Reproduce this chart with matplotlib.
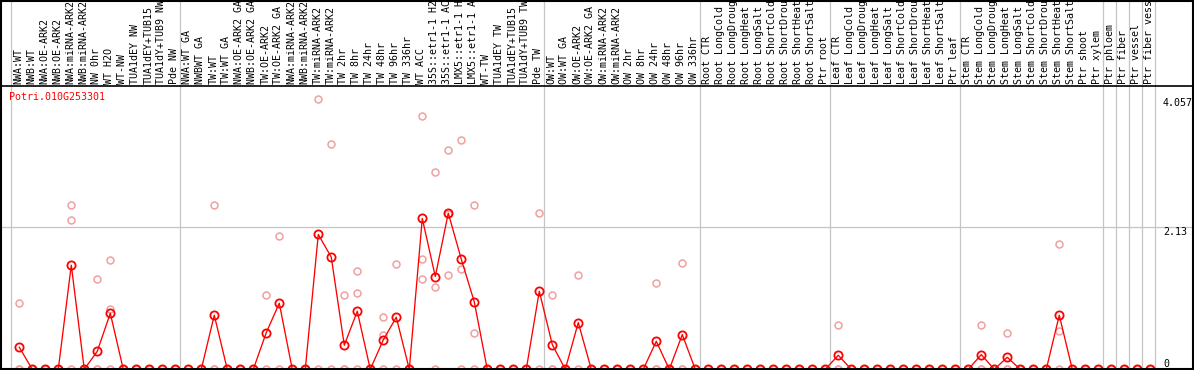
import matplotlib
matplotlib.use('Agg')
import matplotlib.pyplot as plt
from matplotlib.transforms import blended_transform_factory
from matplotlib.lines import Line2D

# ---------------- data ----------------
gene_id = "Potri.010G253301"

labels = [
    "NWA:WT", "NWB:WT", "NWA:OE-ARK2", "NWB:OE-ARK2", "NWA:miRNA-ARK2", "NWB:miRNA-ARK2",
    "NW 0hr", "WT H2O", "WT-NW", "TUA1dEY NW", "TUA1dEY+TUB15", "TUA1dY+TUB9 NW", "Pde NW",
    "NWA:WT GA", "NWBWT GA", "TW:WT", "TW:WT GA", "NWA:OE-ARK2 GA", "NWB:OE-ARK2 GA",
    "TW:OE-ARK2", "TW:OE-ARK2 GA", "NWA:miRNA-ARK2", "NWB:miRNA-ARK2", "TW:miRNA-ARK2",
    "TW:miRNA-ARK2", "TW 2hr", "TW 8hr", "TW 24hr", "TW 48hr", "TW 96hr", "TW 336hr",
    "WT ACC", "35S::etr1-1 H2", "35S::etr1-1 AC", "LMX5::etr1-1 H", "LMX5::etr1-1 A",
    "WT-TW", "TUA1dEY TW", "TUA1dEY+TUB15", "TUA1dY+TUB9 TW", "Pde TW",
    "OW:WT", "OW:WT GA", "OW:OE-ARK2", "OW:OE-ARK2 GA", "OW:miRNA-ARK2", "OW:miRNA-ARK2",
    "OW 2hr", "OW 8hr", "OW 24hr", "OW 48hr", "OW 96hr", "OW 336hr",
    "Root CTR", "Root LongCold", "Root LongDroug", "Root LongHeat", "Root LongSalt",
    "Root ShortCold", "Root ShortDrou", "Root ShortHeat", "Root ShortSalt", "Ptr root",
    "Leaf CTR", "Leaf LongCold", "Leaf LongDroug", "Leaf LongHeat", "Leaf LongSalt",
    "Leaf ShortCold", "Leaf ShortDrou", "Leaf ShortHeat", "Leaf ShortSalt", "Ptr leaf",
    "Stem CTR", "Stem LongCold", "Stem LongDroug", "Stem LongHeat", "Stem LongSalt",
    "Stem ShortCold", "Stem ShortDrou", "Stem ShortHeat", "Stem ShortSalt", "Ptr shoot",
    "Ptr xylem", "Ptr phloem", "Ptr fiber", "Ptr vessel", "Ptr fiber vess",
]

means = [
    0.33, 0, 0, 0, 1.56, 0, 0.27, 0.84, 0, 0, 0, 0, 0,
    0, 0, 0.81, 0, 0, 0, 0.55, 0.99, 0, 0, 2.02, 1.68, 0.36, 0.87, 0, 0.44, 0.78, 0,
    2.26, 1.39, 2.34, 1.65, 1.01, 0, 0, 0, 0, 1.17,
    0.37, 0, 0.70, 0, 0, 0, 0, 0, 0.42, 0, 0.52, 0,
    0, 0, 0, 0, 0, 0, 0, 0, 0, 0,
    0.21, 0, 0, 0, 0, 0, 0, 0, 0, 0,
    0, 0.22, 0, 0.18, 0, 0, 0, 0.81, 0, 0, 0,
    0, 0, 0, 0,
]

replicates = [
    [0.99, 0, 0], [0, 0], [0, 0], [0, 0], [2.455, 2.23, 0], [0, 0], [1.36, 0, 0],
    [1.63, 0.91, 0], [0, 0], [0, 0], [0, 0], [0, 0], [0, 0],
    [0, 0], [0, 0], [2.455, 0, 0], [0, 0], [0, 0], [0, 0], [1.12, 0], [2.0, 0],
    [0, 0], [0, 0], [4.057, 0], [3.37, 0], [1.11, 0, 0], [1.47, 1.14, 0], [0, 0],
    [0.78, 0.51, 0], [1.58, 0], [0, 0],
    [3.79, 1.65, 1.36], [2.95, 1.23, 0], [3.28, 1.41, 2.33], [3.43, 1.5, 0],
    [2.455, 0.55, 0], [0, 0], [0, 0], [0, 0], [0, 0], [2.34, 0],
    [1.12, 0, 0], [0, 0], [1.41, 0], [0, 0], [0, 0], [0, 0], [0, 0], [0, 0],
    [1.29, 0, 0], [0, 0], [1.6, 0, 0], [0, 0],
    [0, 0], [0, 0], [0, 0], [0, 0], [0, 0], [0, 0], [0, 0], [0, 0], [0, 0], [0, 0],
    [0.67, 0, 0], [0, 0], [0, 0], [0, 0], [0, 0], [0, 0], [0, 0], [0, 0], [0, 0], [0, 0],
    [0, 0], [0.67, 0, 0], [0, 0], [0.54, 0, 0], [0, 0], [0, 0], [0, 0],
    [1.87, 0.57, 0], [0, 0], [0, 0], [0, 0],
    [0, 0], [0, 0], [0, 0], [0, 0],
]

group_bounds = [0, 13, 41, 53, 63, 73, 84, 85, 86, 87, 88]
axis_ticks = [4.057, 2.13, 0]
axis_tick_labels = ["4.057", "2.13", "0"]

# ---------------- layout ----------------
W, H = 1194, 370
fig = plt.figure(figsize=(W / 100, H / 100), dpi=100)


def fx(px):
    return px / W


def fy(py):
    return 1 - py / H


ax_left, ax_right = 1.0, 1192.0
ax_top, ax_bottom = 86.0, 369.3
col_w, x0 = 13.0, 10.7
ymax_px = 98.5

ax = fig.add_axes([fx(ax_left), fy(ax_bottom), (ax_right - ax_left) / W,
                   (ax_bottom - ax_top) / H])
ax.set_xlim((ax_left - x0) / col_w, (ax_right - x0) / col_w)
ax.set_ylim(0, max(axis_ticks) * (ax_bottom - ax_top) / (ax_bottom - ymax_px))
ax.axis('off')

mono = 'DejaVu Sans Mono'
fs = 7.2
grid_c = '#c4c4c4'

# vertical group separators (extend through label area)
ext = ax_bottom / (ax_bottom - ax_top)
for b in group_bounds:
    ax.axvline(b, ymin=0, ymax=ext, color=grid_c, lw=0.9, clip_on=False, zorder=0)

# horizontal grid line at middle tick
ax.axhline(axis_ticks[1], xmin=0, xmax=1.0, color=grid_c, lw=0.9, zorder=0, clip_on=False)

# replicate points
rx, ry = [], []
for i, reps in enumerate(replicates):
    for v in reps:
        rx.append(i + 0.66)
        ry.append(v)
ax.plot(rx, ry, ls='none', marker='o', ms=5.0, mfc='none', mec='#f0a0a0', mew=1.1,
        clip_on=False, zorder=2)

# mean line
xs = [i + 0.66 for i in range(len(means))]
ax.plot(xs, means, color='red', lw=0.95, marker='o', ms=5.9, mfc='none', mec='red',
        mew=1.3, clip_on=False, zorder=3)

# column labels
tr_lab = blended_transform_factory(ax.transData, fig.transFigure)
for i, lab in enumerate(labels):
    ax.text(i + 0.585, fy(84.5), lab, transform=tr_lab, rotation=90, ha='center',
            va='bottom', fontsize=fs, family=mono, color='black', clip_on=False)

# right-hand value labels
tr_val = blended_transform_factory(fig.transFigure, ax.transData)
for v, t in zip(axis_ticks, axis_tick_labels):
    ax.text(fx(1163), v, t, transform=tr_val, ha='left',
            va='bottom' if v == 0 else 'top', fontsize=fs, family=mono, color='black')

# gene id
fig.text(fx(9), fy(91.5), gene_id, color='red', fontsize=fs, family=mono,
         ha='left', va='top')

# frame lines
def fline(xa, ya, xb, yb, lw=1.5):
    fig.add_artist(Line2D([fx(xa), fx(xb)], [fy(ya), fy(yb)], color='black', lw=lw,
                          transform=fig.transFigure, solid_capstyle='butt'))

fline(1.0, 0, 1.0, H)            # left
fline(1192.8, 0, 1192.8, H)      # right
fline(0, 0.6, W, 0.6)            # top
fline(0, 85.5, W, 85.5, lw=1.2)  # separator
fline(0, 369.3, W, 369.3)        # bottom

fig.savefig('out.png', dpi=100)
